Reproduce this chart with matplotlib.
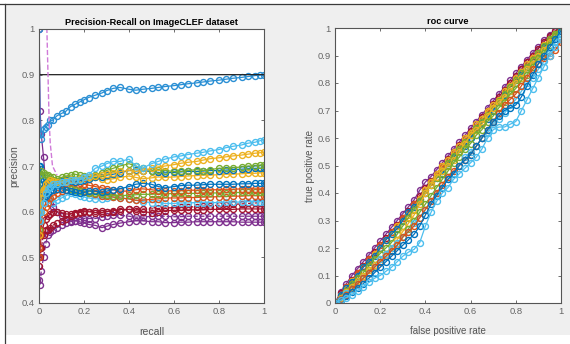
import matplotlib
matplotlib.use('Agg')
import matplotlib.pyplot as plt
from matplotlib.patches import Rectangle
from matplotlib.lines import Line2D

plt.rcParams['font.family'] = ['Liberation Sans', 'DejaVu Sans']

# MATLAB default colour order
BLUE = '#0072BD'
ORANGE = '#D95319'
YELLOW = '#EDB120'
PURPLE = '#7E2F8E'
GREEN = '#77AC30'
CYAN = '#4DBEEE'
RED = '#A2142F'

# ---------------- precision / recall panel ----------------
recall = [0, 0.005, 0.01, 0.02, 0.03, 0.04, 0.05, 0.06, 0.08, 0.1,
          0.12, 0.14, 0.16, 0.18, 0.2, 0.22, 0.25, 0.28, 0.3, 0.33,
          0.36, 0.4, 0.43, 0.46, 0.5, 0.53, 0.56, 0.6, 0.63, 0.66,
          0.7, 0.73, 0.76, 0.8, 0.83, 0.86, 0.9, 0.93, 0.96, 0.98, 1.0]

pr_blue_top = [1.0, 0.77, 0.76, 0.78, 0.785, 0.79, 0.80, 0.80, 0.81, 0.815,
               0.82, 0.83, 0.835, 0.84, 0.845, 0.85, 0.855, 0.86, 0.865, 0.87,
               0.872, 0.868, 0.866, 0.868, 0.87, 0.872, 0.874, 0.876, 0.878, 0.88,
               0.882, 0.884, 0.886, 0.888, 0.89, 0.892, 0.894, 0.896, 0.898, 0.899, 0.90]
pr_cyan = [0.6, 0.58, 0.6, 0.62, 0.64, 0.65, 0.655, 0.66, 0.66, 0.665,
           0.665, 0.67, 0.67, 0.67, 0.675, 0.68, 0.695, 0.70, 0.705, 0.71,
           0.71, 0.715, 0.70, 0.695, 0.705, 0.71, 0.715, 0.72, 0.722, 0.725,
           0.728, 0.73, 0.733, 0.736, 0.74, 0.743, 0.746, 0.75, 0.752, 0.755, 0.758]
pr_yellow = [0.55, 0.6, 0.63, 0.65, 0.66, 0.665, 0.67, 0.668, 0.665, 0.665,
             0.668, 0.67, 0.67, 0.672, 0.675, 0.675, 0.678, 0.68, 0.682, 0.685,
             0.688, 0.69, 0.688, 0.69, 0.695, 0.698, 0.70, 0.703, 0.706, 0.708,
             0.71, 0.713, 0.716, 0.718, 0.72, 0.722, 0.724, 0.726, 0.728, 0.729, 0.73]
pr_green = [0.6, 0.68, 0.69, 0.685, 0.68, 0.68, 0.675, 0.675, 0.672, 0.675,
            0.678, 0.68, 0.682, 0.68, 0.678, 0.675, 0.68, 0.685, 0.69, 0.695,
            0.70, 0.705, 0.70, 0.695, 0.69, 0.692, 0.69, 0.688, 0.688, 0.69,
            0.692, 0.69, 0.692, 0.695, 0.695, 0.696, 0.698, 0.70, 0.70, 0.702, 0.703]
pr_teal = [0.66, 0.7, 0.68, 0.67, 0.665, 0.66, 0.66, 0.66, 0.665, 0.668,
           0.67, 0.668, 0.665, 0.667, 0.67, 0.672, 0.675, 0.677, 0.68, 0.682,
           0.685, 0.69, 0.692, 0.69, 0.688, 0.686, 0.685, 0.686, 0.687, 0.688,
           0.688, 0.689, 0.69, 0.69, 0.691, 0.692, 0.693, 0.694, 0.695, 0.695, 0.696]
pr_yellow2 = [0.62, 0.64, 0.65, 0.655, 0.66, 0.66, 0.662, 0.665, 0.668, 0.67,
              0.672, 0.672, 0.67, 0.668, 0.67, 0.672, 0.675, 0.672, 0.67, 0.672,
              0.675, 0.678, 0.675, 0.672, 0.674, 0.676, 0.675, 0.676, 0.677, 0.678,
              0.679, 0.68, 0.68, 0.681, 0.682, 0.682, 0.683, 0.684, 0.684, 0.685, 0.685]
pr_blue = [0.7, 0.66, 0.64, 0.63, 0.635, 0.64, 0.645, 0.648, 0.65, 0.65,
           0.648, 0.645, 0.642, 0.64, 0.642, 0.645, 0.645, 0.642, 0.645, 0.648,
           0.65, 0.655, 0.66, 0.662, 0.66, 0.655, 0.652, 0.655, 0.657, 0.658,
           0.658, 0.659, 0.66, 0.66, 0.66, 0.66, 0.661, 0.661, 0.662, 0.662, 0.662]
pr_orange = [0.5, 0.55, 0.6, 0.64, 0.655, 0.66, 0.665, 0.665, 0.66, 0.66,
             0.662, 0.665, 0.665, 0.662, 0.66, 0.658, 0.655, 0.652, 0.65, 0.648,
             0.645, 0.645, 0.648, 0.65, 0.648, 0.646, 0.645, 0.646, 0.646, 0.647,
             0.647, 0.648, 0.648, 0.648, 0.649, 0.649, 0.65, 0.65, 0.65, 0.65, 0.65]
pr_orange2 = [0.52, 0.56, 0.58, 0.6, 0.61, 0.62, 0.63, 0.635, 0.64, 0.645,
              0.648, 0.65, 0.65, 0.648, 0.645, 0.64, 0.638, 0.635, 0.635, 0.632,
              0.63, 0.628, 0.625, 0.625, 0.627, 0.628, 0.63, 0.63, 0.63, 0.631,
              0.631, 0.632, 0.632, 0.633, 0.633, 0.634, 0.634, 0.635, 0.635, 0.635, 0.635]
pr_green2 = [0.56, 0.6, 0.63, 0.65, 0.665, 0.67, 0.672, 0.67, 0.665, 0.66,
             0.655, 0.65, 0.648, 0.645, 0.642, 0.64, 0.64, 0.638, 0.636, 0.635,
             0.635, 0.636, 0.637, 0.638, 0.638, 0.639, 0.639, 0.64, 0.64, 0.64,
             0.64, 0.641, 0.641, 0.641, 0.641, 0.642, 0.642, 0.642, 0.642, 0.642, 0.642]
pr_cyan2 = [0.58, 0.62, 0.64, 0.65, 0.64, 0.63, 0.625, 0.62, 0.625, 0.63,
            0.635, 0.64, 0.638, 0.635, 0.632, 0.63, 0.628, 0.628, 0.63, 0.632,
            0.63, 0.628, 0.625, 0.622, 0.62, 0.62, 0.618, 0.618, 0.619, 0.619,
            0.62, 0.62, 0.62, 0.62, 0.621, 0.621, 0.621, 0.622, 0.622, 0.622, 0.622]
pr_red = [0.5, 0.52, 0.55, 0.57, 0.585, 0.59, 0.595, 0.6, 0.6, 0.598,
          0.595, 0.595, 0.598, 0.6, 0.602, 0.6, 0.598, 0.598, 0.6, 0.602,
          0.605, 0.605, 0.602, 0.6, 0.598, 0.6, 0.602, 0.603, 0.603, 0.604,
          0.604, 0.604, 0.605, 0.605, 0.605, 0.605, 0.606, 0.606, 0.606, 0.606, 0.606]
pr_red_dash = [0.48, 0.5, 0.52, 0.55, 0.56, 0.56, 0.565, 0.57, 0.575, 0.58,
               0.585, 0.59, 0.595, 0.598, 0.6, 0.6, 0.602, 0.602, 0.6, 0.6,
               0.602, 0.605, 0.605, 0.606, 0.606, 0.607, 0.608, 0.609, 0.61, 0.61,
               0.611, 0.612, 0.613, 0.614, 0.615, 0.616, 0.617, 0.618, 0.619, 0.62, 0.62]
pr_purple = [1.0, 0.82, 0.77, 0.72, 0.66, 0.63, 0.62, 0.61, 0.6, 0.59,
             0.585, 0.58, 0.58, 0.578, 0.575, 0.572, 0.57, 0.565, 0.568, 0.572,
             0.575, 0.578, 0.58, 0.58, 0.578, 0.578, 0.576, 0.576, 0.577, 0.577,
             0.578, 0.578, 0.578, 0.578, 0.578, 0.578, 0.577, 0.577, 0.577, 0.577, 0.577]
pr_purple_dash = [0.45, 0.44, 0.47, 0.5, 0.53, 0.55, 0.555, 0.56, 0.565, 0.57,
                  0.575, 0.578, 0.58, 0.582, 0.585, 0.585, 0.585, 0.588, 0.59, 0.592,
                  0.592, 0.59, 0.588, 0.588, 0.59, 0.59, 0.59, 0.589, 0.589, 0.59,
                  0.59, 0.59, 0.59, 0.59, 0.59, 0.59, 0.59, 0.59, 0.59, 0.59, 0.59]

# reference lines: black baseline and the pink dashed drop near recall 0
base_recall = [0, 0.003, 1.0]
base_precision = [1.0, 0.9, 0.9]
pink_recall = [0.03, 0.035, 0.04, 0.045, 0.05, 0.06, 0.08]
pink_precision = [1.0, 1.0, 0.9, 0.8, 0.75, 0.7, 0.68]

pr_series = [
    (pr_purple_dash, PURPLE, '--'),
    (pr_purple, PURPLE, '-'),
    (pr_red_dash, RED, '--'),
    (pr_red, RED, '-'),
    (pr_cyan2, CYAN, '-'),
    (pr_orange2, ORANGE, '-'),
    (pr_green2, GREEN, '-'),
    (pr_orange, ORANGE, '-'),
    (pr_blue, BLUE, '-'),
    (pr_yellow2, YELLOW, '-'),
    (pr_teal, BLUE, '-'),
    (pr_green, GREEN, '-'),
    (pr_yellow, YELLOW, '-'),
    (pr_cyan, CYAN, '-'),
    (pr_blue_top, '#2a8fd4', '-'),
]

# ---------------- roc panel ----------------
fpr = [0, 0.025, 0.05, 0.075, 0.1, 0.125, 0.15, 0.175, 0.2, 0.225,
       0.25, 0.275, 0.3, 0.325, 0.35, 0.375, 0.4, 0.425, 0.45, 0.475,
       0.5, 0.525, 0.55, 0.575, 0.6, 0.625, 0.65, 0.675, 0.7, 0.725,
       0.75, 0.775, 0.8, 0.825, 0.85, 0.875, 0.9, 0.925, 0.95, 0.975, 1.0]

roc_lightblue = [0, 0.01, 0.02, 0.03, 0.045, 0.06, 0.075, 0.09, 0.1, 0.115,
                 0.13, 0.15, 0.17, 0.185, 0.195, 0.22, 0.28, 0.33, 0.37, 0.4,
                 0.42, 0.45, 0.47, 0.49, 0.51, 0.53, 0.56, 0.6, 0.63, 0.64,
                 0.64, 0.65, 0.66, 0.7, 0.74, 0.78, 0.82, 0.86, 0.9, 0.93, 0.96]
roc_blue = [0, 0.01, 0.025, 0.04, 0.055, 0.07, 0.09, 0.11, 0.13, 0.15,
            0.17, 0.19, 0.21, 0.23, 0.25, 0.28, 0.32, 0.36, 0.39, 0.42,
            0.45, 0.47, 0.5, 0.52, 0.54, 0.57, 0.6, 0.63, 0.66, 0.68,
            0.7, 0.71, 0.72, 0.75, 0.79, 0.83, 0.87, 0.9, 0.93, 0.96, 0.99]
roc_orange = [0, 0.015, 0.03, 0.05, 0.07, 0.09, 0.11, 0.13, 0.15, 0.17,
              0.19, 0.21, 0.24, 0.26, 0.28, 0.31, 0.34, 0.37, 0.4, 0.43,
              0.46, 0.48, 0.5, 0.52, 0.54, 0.57, 0.6, 0.63, 0.66, 0.69,
              0.72, 0.74, 0.76, 0.79, 0.82, 0.85, 0.87, 0.89, 0.9, 0.92, 0.95]
roc_cyan = [0, 0.015, 0.035, 0.05, 0.07, 0.09, 0.11, 0.13, 0.16, 0.18,
            0.2, 0.22, 0.24, 0.26, 0.29, 0.31, 0.34, 0.37, 0.4, 0.42,
            0.45, 0.47, 0.5, 0.53, 0.55, 0.57, 0.6, 0.62, 0.65, 0.67,
            0.69, 0.72, 0.74, 0.77, 0.8, 0.82, 0.85, 0.88, 0.91, 0.95, 0.98]
roc_green2 = [0, 0.01, 0.03, 0.05, 0.07, 0.09, 0.11, 0.13, 0.15, 0.17,
              0.19, 0.21, 0.24, 0.27, 0.3, 0.33, 0.36, 0.39, 0.42, 0.45,
              0.48, 0.51, 0.53, 0.56, 0.58, 0.61, 0.63, 0.66, 0.68, 0.71,
              0.73, 0.76, 0.78, 0.81, 0.83, 0.86, 0.89, 0.91, 0.94, 0.97, 1.0]
roc_yellow = [0, 0.02, 0.04, 0.06, 0.08, 0.1, 0.12, 0.14, 0.16, 0.18,
              0.2, 0.23, 0.26, 0.29, 0.32, 0.36, 0.4, 0.43, 0.46, 0.48,
              0.5, 0.52, 0.55, 0.58, 0.61, 0.63, 0.65, 0.68, 0.71, 0.73,
              0.75, 0.77, 0.8, 0.82, 0.85, 0.87, 0.9, 0.92, 0.95, 0.97, 1.0]
roc_green = [0, 0.02, 0.045, 0.07, 0.09, 0.11, 0.135, 0.16, 0.18, 0.2,
             0.22, 0.25, 0.28, 0.31, 0.34, 0.37, 0.4, 0.43, 0.455, 0.48,
             0.51, 0.535, 0.56, 0.585, 0.61, 0.635, 0.66, 0.685, 0.71, 0.735,
             0.76, 0.785, 0.81, 0.835, 0.86, 0.885, 0.91, 0.935, 0.96, 0.98, 1.0]
roc_blue2 = [0, 0.03, 0.055, 0.075, 0.1, 0.13, 0.15, 0.17, 0.2, 0.23,
             0.25, 0.27, 0.3, 0.33, 0.35, 0.37, 0.4, 0.43, 0.455, 0.47,
             0.5, 0.53, 0.55, 0.57, 0.6, 0.63, 0.655, 0.67, 0.7, 0.73,
             0.755, 0.77, 0.8, 0.83, 0.85, 0.87, 0.9, 0.93, 0.95, 0.97, 1.0]
roc_yellow2 = [0, 0.03, 0.05, 0.08, 0.1, 0.13, 0.15, 0.18, 0.2, 0.23,
               0.25, 0.28, 0.3, 0.32, 0.35, 0.38, 0.41, 0.44, 0.47, 0.5,
               0.52, 0.55, 0.57, 0.6, 0.62, 0.65, 0.67, 0.7, 0.72, 0.74,
               0.77, 0.79, 0.82, 0.84, 0.87, 0.89, 0.91, 0.94, 0.96, 0.98, 1.0]
roc_orange2 = [0, 0.03, 0.06, 0.08, 0.11, 0.13, 0.16, 0.18, 0.21, 0.23,
               0.26, 0.28, 0.31, 0.33, 0.36, 0.38, 0.41, 0.44, 0.46, 0.49,
               0.51, 0.54, 0.56, 0.59, 0.61, 0.64, 0.66, 0.69, 0.71, 0.74,
               0.76, 0.79, 0.81, 0.84, 0.86, 0.89, 0.91, 0.94, 0.96, 0.98, 1.0]
roc_red = [0, 0.035, 0.06, 0.085, 0.11, 0.135, 0.16, 0.185, 0.21, 0.235,
           0.26, 0.285, 0.31, 0.335, 0.36, 0.39, 0.42, 0.445, 0.47, 0.5,
           0.525, 0.55, 0.575, 0.6, 0.625, 0.65, 0.675, 0.7, 0.725, 0.75,
           0.775, 0.8, 0.825, 0.85, 0.875, 0.9, 0.925, 0.95, 0.97, 0.99, 1.0]
roc_purple = [0, 0.04, 0.07, 0.1, 0.125, 0.15, 0.175, 0.2, 0.225, 0.25,
              0.275, 0.3, 0.325, 0.35, 0.375, 0.41, 0.44, 0.46, 0.485, 0.51,
              0.535, 0.56, 0.585, 0.61, 0.635, 0.66, 0.685, 0.71, 0.735, 0.76,
              0.785, 0.81, 0.835, 0.86, 0.885, 0.91, 0.93, 0.955, 0.975, 0.99, 1.0]

roc_series = [
    (roc_purple, PURPLE, '-'),
    (roc_red, RED, '-'),
    (roc_orange2, ORANGE, '-'),
    (roc_yellow2, YELLOW, '-'),
    (roc_blue2, BLUE, '-'),
    (roc_green, GREEN, '-'),
    (roc_yellow, YELLOW, '-'),
    (roc_green2, GREEN, '-'),
    (roc_cyan, CYAN, '-'),
    (roc_orange, ORANGE, '-'),
    (roc_blue, BLUE, '-'),
    (roc_lightblue, CYAN, '-'),
]

W, H = 570, 344
fig = plt.figure(figsize=(W / 100.0, H / 100.0), dpi=100, facecolor='white')

# screenshot frame: grey panel with a dark top and left edge
fig.patches.append(Rectangle((5.0 / W, 1 - 335.0 / H), 1 - 5.0 / W, 331.0 / H,
                             transform=fig.transFigure, facecolor='#efefef',
                             edgecolor='none', zorder=-10))
fig.lines.append(Line2D([0, 1], [1 - 3.5 / H, 1 - 3.5 / H], transform=fig.transFigure,
                        color='#3a3a3a', lw=0.9, zorder=-5))
fig.lines.append(Line2D([4.5 / W, 4.5 / W], [0, 1 - 3.5 / H], transform=fig.transFigure,
                        color='#3a3a3a', lw=0.9, zorder=-5))

ax1 = fig.add_axes([39.0 / W, 1 - 303.0 / H, 225.0 / W, 274.0 / H])
ax2 = fig.add_axes([335.0 / W, 1 - 303.0 / H, 226.0 / W, 275.0 / H])

mk = dict(marker='o', markersize=4.3, markerfacecolor='none', markeredgewidth=1.0,
          linewidth=0.9)

for vals, col, ls in pr_series:
    ax1.plot(recall, vals, color=col, linestyle=ls, **mk)
ax1.plot(base_recall, base_precision, color='#222222', lw=0.9)
ax1.plot(pink_recall, pink_precision, color='#d07ad8', lw=1.0, linestyle='--')

for vals, col, ls in roc_series:
    ax2.plot(fpr, vals, color=col, linestyle=ls, **mk)

ax1.set_xlim(0, 1)
ax1.set_ylim(0.4, 1.0)
ax1.set_xticks([0, 0.2, 0.4, 0.6, 0.8, 1])
ax1.set_xticklabels(['0', '0.2', '0.4', '0.6', '0.8', '1'])
ax1.set_yticks([0.4, 0.5, 0.6, 0.7, 0.8, 0.9, 1.0])
ax1.set_yticklabels(['0.4', '0.5', '0.6', '0.7', '0.8', '0.9', '1'])
ax1.set_title('Precision-Recall on ImageCLEF dataset', fontsize=6.6,
              fontweight='bold', pad=3)
ax1.set_xlabel('recall', fontsize=7.5, color='#555555', labelpad=8)
ax1.set_ylabel('precision', fontsize=7.5, color='#555555', labelpad=2)

ax2.set_xlim(0, 1)
ax2.set_ylim(0, 1)
ax2.set_xticks([0, 0.2, 0.4, 0.6, 0.8, 1])
ax2.set_xticklabels(['0', '0.2', '0.4', '0.6', '0.8', '1'])
ax2.set_yticks([0, 0.1, 0.2, 0.3, 0.4, 0.5, 0.6, 0.7, 0.8, 0.9, 1])
ax2.set_yticklabels(['0', '0.1', '0.2', '0.3', '0.4', '0.5', '0.6', '0.7',
                     '0.8', '0.9', '1'])
ax2.set_title('roc curve', fontsize=6.6, fontweight='bold', pad=3)
ax2.set_xlabel('false positive rate', fontsize=7, color='#555555', labelpad=7)
ax2.set_ylabel('true positive rate', fontsize=7, color='#555555', labelpad=2)

for ax in (ax1, ax2):
    ax.set_facecolor('white')
    for sp in ax.spines.values():
        sp.set_color('#555555')
        sp.set_linewidth(0.8)
    ax.tick_params(direction='in', length=2.5, width=0.6, labelsize=6.8,
                   colors='#555555', top=True, right=True, pad=3)
    ax.tick_params(labelcolor='#666666')

fig.savefig('out.png', dpi=100, facecolor=fig.get_facecolor())
